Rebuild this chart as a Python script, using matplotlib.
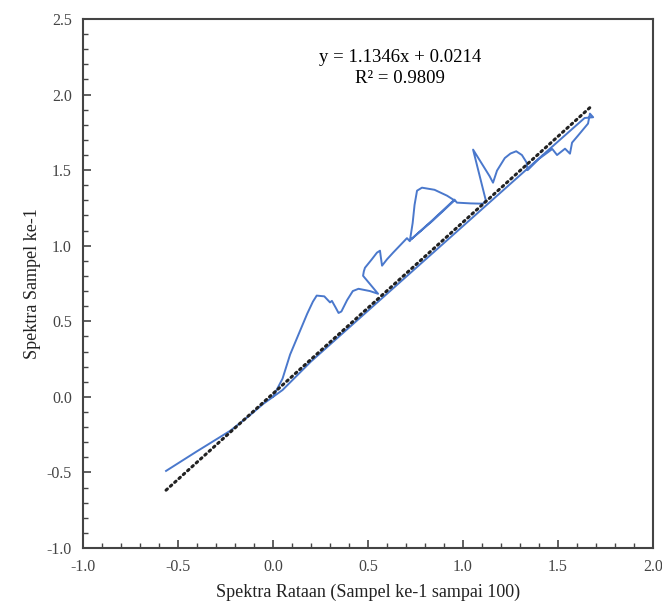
import matplotlib
matplotlib.use("Agg")
import matplotlib.pyplot as plt
import numpy as np
from matplotlib.ticker import MultipleLocator, FormatStrFormatter

plt.rcParams["font.family"] = ["Liberation Serif", "DejaVu Serif"]
plt.rcParams["axes.unicode_minus"] = False

# sample spectrum vs mean spectrum, traced in order
rataan = [-0.563, -0.40, -0.226, -0.12, -0.05, 0.0,
          0.05, 0.09, 0.14, 0.18, 0.21, 0.23, 0.27, 0.30, 0.31, 0.33, 0.345, 0.36, 0.39,
          0.42, 0.45, 0.51, 0.553,
          0.474, 0.478, 0.484, 0.52, 0.547, 0.563, 0.568, 0.574, 0.60, 0.632, 0.705, 0.72,
          0.735, 0.745, 0.758, 0.784, 0.85, 0.916, 0.955, 0.84, 0.725, 0.84, 0.955, 0.968,
          1.04, 1.105,
          1.12, 1.053, 1.14, 1.158, 1.179, 1.22, 1.25, 1.28, 1.31, 1.335, 1.34,
          1.40, 1.47, 1.495, 1.537, 1.563, 1.574, 1.605, 1.658, 1.668, 1.685,
          1.64, 1.55, 1.40, 1.20, 1.00, 0.80, 0.60, 0.40, 0.20, 0.05, 0.0]
sampel = [-0.49, -0.36, -0.225, -0.12, -0.045, 0.0,
          0.12, 0.28, 0.43, 0.55, 0.63, 0.67, 0.665, 0.625, 0.635, 0.59, 0.555, 0.565, 0.64,
          0.70, 0.715, 0.70, 0.682,
          0.801, 0.83, 0.854, 0.91, 0.954, 0.967, 0.92, 0.868, 0.91, 0.954, 1.05, 1.03,
          1.15, 1.27, 1.364, 1.384, 1.37, 1.331, 1.30, 1.165, 1.04, 1.17, 1.305, 1.285,
          1.28, 1.278,
          1.30, 1.636, 1.46, 1.417, 1.497, 1.58, 1.61, 1.625, 1.60, 1.55, 1.50,
          1.575, 1.64, 1.60, 1.642, 1.609, 1.682, 1.728, 1.808, 1.874, 1.85,
          1.845, 1.745, 1.578, 1.354, 1.13, 0.906, 0.682, 0.458, 0.234, 0.045, 0.0]

slope = 1.1346
intercept = 0.0214
r2 = 0.9809

fig = plt.figure(figsize=(6.62, 6.07), dpi=100)
ax = fig.add_axes([0.1254, 0.0972, 0.861, 0.8715])

ax.plot(rataan, sampel, color="#4A78CC", lw=1.4, solid_joinstyle="round")

xt = np.array([min(rataan), 1.68])
ax.plot(xt, slope * xt + intercept, color="#222222", lw=2.2, linestyle=(0, (0.6, 1.3)),
        dash_capstyle="round")

ax.text(0.67, 2.175, f"y = {slope}x + {intercept}\nR² = {r2}", ha="center", va="center",
        fontsize=13.5, linespacing=1.3)

ax.set_xlim(-1.0, 2.0)
ax.set_ylim(-1.0, 2.5)
ax.xaxis.set_major_locator(MultipleLocator(0.5))
ax.xaxis.set_minor_locator(MultipleLocator(0.1))
ax.yaxis.set_major_locator(MultipleLocator(0.5))
ax.yaxis.set_minor_locator(MultipleLocator(0.1))
ax.xaxis.set_major_formatter(FormatStrFormatter("%.1f"))
ax.yaxis.set_major_formatter(FormatStrFormatter("%.1f"))
ax.tick_params(which="major", direction="in", length=6, width=1.2, labelsize=11.5,
               colors="#444444", pad=8)
ax.tick_params(which="minor", direction="in", length=3.5, width=1.0, colors="#444444")
for s in ax.spines.values():
    s.set_color("#444444")
    s.set_linewidth(1.5)

ax.set_xlabel("Spektra Rataan (Sampel ke-1 sampai 100)", fontsize=13, color="#222222",
              labelpad=6)
ax.set_ylabel("Spektra Sampel ke-1", fontsize=13, color="#222222", labelpad=4)

fig.savefig("out.png", dpi=100)
